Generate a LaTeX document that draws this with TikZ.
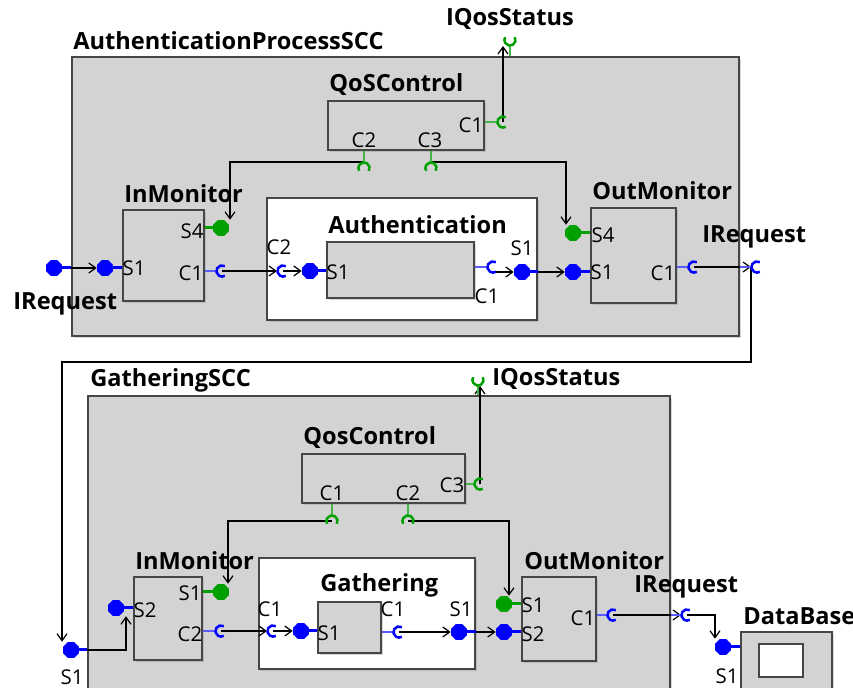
\documentclass[tikz,border=0pt]{standalone}
\usepackage{fontspec}
\setmainfont{Open Sans}
\usetikzlibrary{shapes.geometric,fit,arrows.meta,shadows}

\definecolor{boxgray}{RGB}{211,211,211}
\definecolor{edgegray}{RGB}{70,70,70}
\definecolor{pblue}{RGB}{0,0,255}
\definecolor{lblue}{RGB}{90,90,255}
\definecolor{pgreen}{RGB}{0,160,0}
\definecolor{lgreen}{RGB}{70,180,70}

\begin{document}
\begin{tikzpicture}[
    x=0.5pt, y=-0.5pt,
    comp/.style={draw=edgegray, fill=boxgray, line width=0.6pt, inner sep=0pt,
        drop shadow={shadow xshift=1pt, shadow yshift=-1pt, opacity=0.3}},
    part/.style={comp, fill=white},
    title/.style={font=\fontsize{11.8}{13}\selectfont\bfseries, inner sep=0pt},
    plabel/.style={font=\fontsize{10.2}{11}\selectfont, inner sep=0pt},
    bport/.style={regular polygon, regular polygon sides=8, minimum size=8.5pt, inner sep=0pt, fill=pblue},
    gport/.style={bport, fill=pgreen},
    sock/.style={circle, minimum size=5.6pt, inner sep=0pt},
    bstub/.style={pblue, line width=1.5pt},
    gstub/.style={pgreen, line width=1.5pt},
    bthin/.style={lblue, line width=0.6pt},
    gthin/.style={lgreen, line width=0.6pt},
    barc/.style={pblue, line width=1.25pt},
    garc/.style={pgreen, line width=1.25pt},
    flow/.style={-{Straight Barb[length=3.5pt, width=5pt]}, line width=0.6pt},
]
\clip (0,0) rectangle (853,688);
\fill[white] (0,0) rectangle (853,688);

% AuthenticationProcessSCC
\node[comp, fit={(72,57) (739,336)}] (apscc) {};
\node[title, anchor=base west] at (73,50) {AuthenticationProcessSCC};
\node[comp, fit={(328,101) (484,150)}] (qos1) {};
\node[title, anchor=base west] at (329,92) {QoSControl};
\node[comp, fit={(123,210) (204,301)}] (im1) {};
\node[title, anchor=base west] at (124,203) {InMonitor};
\node[part, fit={(267,198) (537,320)}] (auth) {};
\node[title, anchor=base west] at (328,234) {Authentication};
\node[comp, fit={(327,242) (474,298)}] (authin) {};
\node[comp, fit={(591,208) (676,303)}] (om1) {};
\node[title, anchor=base west] at (592,200) {OutMonitor};

% ports
\node[bport] (ir1) at (54,268) {};
\node[title, anchor=base west] at (13,310) {IRequest};
\node[sock] (iqs1) at (510,40) {};
\node[title, anchor=base] at (510,26) {IQosStatus};
\node[sock] (q1c1) at (503,122) {};
\node[plabel] at (471,125) {C1};
\node[sock] (q1c2) at (364,168) {};
\node[plabel] at (364,140) {C2};
\node[sock] (q1c3) at (431,168) {};
\node[plabel] at (430,140) {C3};
\node[bport] (im1s1) at (105,268) {};
\node[plabel] at (134,268) {S1};
\node[gport] (im1s4) at (221,228) {};
\node[plabel] at (192,231) {S4};
\node[sock] (im1c1) at (222,271) {};
\node[plabel] at (191,273) {C1};
\node[sock] (a1c2) at (283,271) {};
\node[plabel] at (279,247) {C2};
\node[bport] (a1is1) at (310,271) {};
\node[plabel] at (338,272) {S1};
\node[sock] (a1ic1) at (493,267) {};
\node[plabel] at (487,296) {C1};
\node[bport] (a1s1) at (522,272) {};
\node[plabel] at (522,248) {S1};
\node[gport] (om1s4) at (573,233) {};
\node[plabel] at (603,235) {S4};
\node[bport] (om1s1) at (573,272) {};
\node[plabel] at (602,272) {S1};
\node[sock] (om1c1) at (694,267) {};
\node[plabel] at (663,273) {C1};
\node[sock] (ir1o) at (757,267) {};
\node[title, anchor=base west] at (702,243) {IRequest};

% GatheringSCC
\node[comp, fit={(88,396) (670,710)}] (gscc) {};
\node[title, anchor=base west] at (90,387) {GatheringSCC};
\node[comp, fit={(302,454) (465,503)}] (qos2) {};
\node[title, anchor=base west] at (303,445) {QosControl};
\node[comp, fit={(134,577) (202,660)}] (im2) {};
\node[title, anchor=base west] at (135,570) {InMonitor};
\node[part, fit={(259,558) (475,669)}] (gath) {};
\node[title, anchor=base west] at (320,592) {Gathering};
\node[comp, fit={(318,602) (381,653)}] (gathin) {};
\node[comp, fit={(522,577) (596,661)}] (om2) {};
\node[title, anchor=base west] at (524,570) {OutMonitor};
\node[comp, fit={(741,632) (832,710)}] (db) {};
\node[title, anchor=base west] at (743,625) {DataBase};
\node[draw=edgegray, fill=white, line width=0.6pt, inner sep=0pt, fit={(759,644) (803,677)}] (dbin) {};

% ports
\node[bport] (g1s1) at (71,650) {};
\node[plabel] at (72,677) {S1};
\node[sock] (iqs2) at (478,380) {};
\node[title, anchor=base west] at (492,386) {IQosStatus};
\node[sock] (q2c1) at (332,521) {};
\node[plabel] at (332,493) {C1};
\node[sock] (q2c2) at (408,521) {};
\node[plabel] at (408,493) {C2};
\node[sock] (q2c3) at (480,484) {};
\node[plabel] at (452,485) {C3};
\node[bport] (im2s2) at (116,608) {};
\node[plabel] at (145,610) {S2};
\node[gport] (im2s1) at (221,592) {};
\node[plabel] at (190,593) {S1};
\node[sock] (im2c2) at (221,631) {};
\node[plabel] at (190,634) {C2};
\node[sock] (g2c1) at (273,631) {};
\node[plabel] at (270,609) {C1};
\node[bport] (g2is1) at (301,631) {};
\node[plabel] at (329,633) {S1};
\node[sock] (g2ic1) at (399,632) {};
\node[plabel] at (393,609) {C1};
\node[bport] (g2s1) at (459,632) {};
\node[plabel] at (461,609) {S1};
\node[gport] (om2s1) at (504,604) {};
\node[plabel] at (533,605) {S1};
\node[bport] (om2s2) at (504,632) {};
\node[plabel] at (533,634) {S2};
\node[sock] (om2c1) at (613,615) {};
\node[plabel] at (583,618) {C1};
\node[sock] (ir2o) at (687,615) {};
\node[title, anchor=base west] at (634,593) {IRequest};
\node[bport] (dbs1) at (723,647) {};
\node[plabel] at (727,676) {S1};

% connectors
\draw[flow] (ir1) -- (im1s1);
\draw[flow] (im1c1.center) -- (a1c2.west);
\draw[flow] (a1c2.center) -- (a1is1);
\draw[flow] (a1ic1.center |- a1s1) -- (a1s1);
\draw[flow] (a1s1) -- (om1s1);
\draw[flow] (om1c1.center) -- (ir1o.west);
\draw[flow] (q1c1.center) -- (q1c1.center |- iqs1.south);
\draw[flow] (q1c2.north) -| ([xshift=4.5pt]im1s4.north);
\draw[flow] (q1c3.north) -| ([xshift=-3.5pt]om1s4.north);
\coordinate (turn) at (62,362);
\draw[flow] (ir1o.west) |- (turn) -- (turn |- g1s1.north);
\draw[flow] (g1s1) -| ([xshift=5pt]im2s2.south);
\draw[flow] (im2c2.center) -- (g2c1.west);
\draw[flow] (g2c1.center) -- (g2is1);
\draw[flow] (g2ic1.center) -- (g2s1);
\draw[flow] (g2s1) -- (om2s2);
\draw[flow] (om2c1.center) -- (ir2o.west);
\draw[flow] (q2c3.center) -- (q2c3.center |- iqs2.south);
\draw[flow] (q2c1.center) -| ([xshift=3.5pt]im2s1.north);
\draw[flow] (q2c2.center) -| ([xshift=2.5pt]om2s1.north);
\draw[flow] (ir2o.center) -| ([xshift=-4pt]dbs1.north);

% port stubs and sockets
\draw[bstub] (ir1) -- (ir1 -| apscc.west);
\draw[bstub] (im1s1) -- (im1s1 -| im1.west);
\draw[gstub] (im1s4) -- (im1s4 -| im1.east);
\draw[bstub] (a1is1) -- (a1is1 -| authin.west);
\draw[bstub] (a1s1) -- (a1s1 -| auth.east);
\draw[gstub] (om1s4) -- (om1s4 -| om1.west);
\draw[bstub] (om1s1) -- (om1s1 -| om1.west);
\draw[bstub] (g1s1) -- (g1s1 -| gscc.west);
\draw[bstub] (im2s2) -- (im2s2 -| im2.west);
\draw[gstub] (im2s1) -- (im2s1 -| im2.east);
\draw[bstub] (g2is1) -- (g2is1 -| gathin.west);
\draw[bstub] (g2s1) -- (g2s1 -| gath.east);
\draw[gstub] (om2s1) -- (om2s1 -| om2.west);
\draw[bstub] (om2s2) -- (om2s2 -| om2.west);
\draw[bstub] (dbs1) -- (dbs1 -| db.west);

\draw[bthin] (im1c1.west) -- (im1c1 -| im1.east);
\draw[bthin] (a1ic1.west) -- (a1ic1 -| authin.east);
\draw[bthin] (om1c1.west) -- (om1c1 -| om1.east);
\draw[bthin] (ir1o.west) -- (ir1o -| apscc.east);
\draw[gthin] (q1c1.west) -- (q1c1 -| qos1.east);
\draw[gthin] (q1c2.north) -- (q1c2 |- qos1.south);
\draw[gthin] (q1c3.north) -- (q1c3 |- qos1.south);
\draw[gthin] (iqs1.south) -- (iqs1 |- apscc.north);
\draw[bthin] (im2c2.west) -- (im2c2 -| im2.east);
\draw[bthin] (g2ic1.west) -- (g2ic1 -| gathin.east);
\draw[bthin] (om2c1.west) -- (om2c1 -| om2.east);
\draw[bthin] (ir2o.west) -- (ir2o -| gscc.east);
\draw[gthin] (q2c3.west) -- (q2c3 -| qos2.east);
\draw[gthin] (q2c1.north) -- (q2c1 |- qos2.south);
\draw[gthin] (q2c2.north) -- (q2c2 |- qos2.south);
\draw[gthin] (iqs2.south) -- (iqs2 |- gscc.north);

\foreach \s in {im1c1,a1c2,a1ic1,om1c1,ir1o,im2c2,g2c1,g2ic1,om2c1,ir2o}
  \draw[barc] (\s.center) ++(60:2.8pt) arc[start angle=60, end angle=300, radius=2.8pt];
\foreach \s in {q1c1,q2c3}
  \draw[garc] (\s.center) ++(60:2.8pt) arc[start angle=60, end angle=300, radius=2.8pt];
\foreach \s in {q1c2,q1c3,q2c1,q2c2}
  \draw[garc] (\s.center) ++(-30:2.8pt) arc[start angle=-30, end angle=210, radius=2.8pt];
\foreach \s in {iqs1,iqs2}
  \draw[garc] (\s.center) ++(30:2.8pt) arc[start angle=30, end angle=-210, radius=2.8pt];

\end{tikzpicture}
\end{document}
